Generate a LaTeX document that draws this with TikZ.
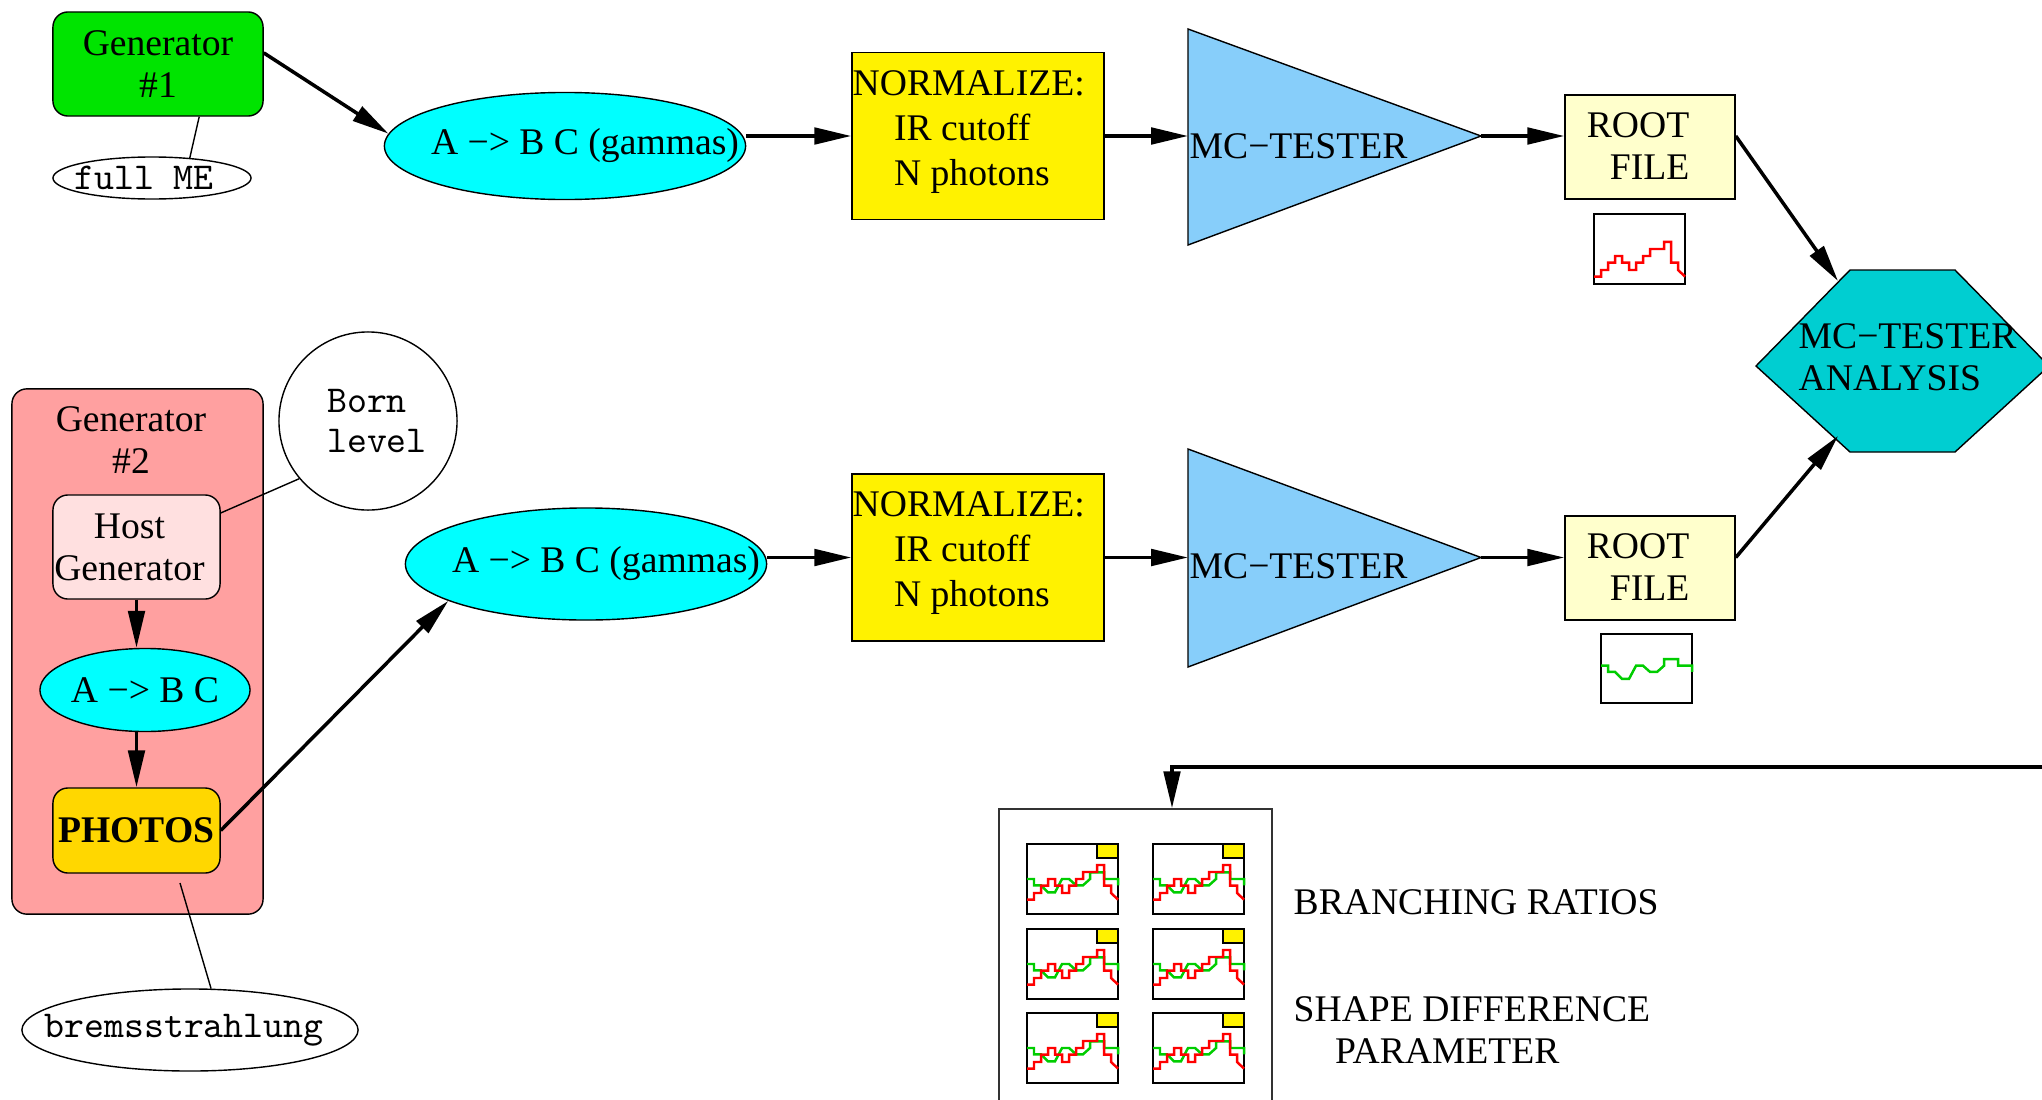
\documentclass[tikz,border=0pt]{standalone}
\usepackage{fontspec}
\setmainfont{Liberation Serif}
\usetikzlibrary{arrows.meta,shapes.geometric}

\definecolor{gengreen}{RGB}{0,228,0}
\definecolor{ovalcyan}{RGB}{0,255,255}
\definecolor{pinkdark}{RGB}{255,160,160}
\definecolor{pinklight}{RGB}{255,224,224}
\definecolor{goldbox}{RGB}{255,215,0}
\definecolor{skyblue}{RGB}{135,206,250}
\definecolor{turq}{RGB}{0,206,209}
\definecolor{rootyellow}{RGB}{255,255,204}
\definecolor{histgreen}{RGB}{0,205,0}

\newcommand{\redsteps}{(0,.105) -- (1,.105) -- (1,.2) -- (2,.2) -- (2,.305) -- (3,.305) -- (3,.4) -- (4,.4) -- (4,.305) -- (5,.305) -- (5,.2) -- (6,.2) -- (6,.305) -- (7,.305) -- (7,.4) -- (8,.4) -- (8,.5) -- (10,.5) -- (10,.6) -- (11,.6) -- (11,.305) -- (12,.305) -- (12,.2) -- (13,.105)}
\newcommand{\greensteps}{(0,.54) -- (1,.54) -- (1,.45) -- (2,.45) -- (3,.35) -- (4,.35) -- (5,.54) -- (6,.54) -- (7,.45) -- (8,.45) -- (9,.54) -- (9,.635) -- (11,.635) -- (11,.54) -- (13,.54) -- (13,.45)}

\begin{document}
\begin{tikzpicture}[x=0.01cm, y=-0.01cm,
    every node/.style={font=\fontsize{10.7}{12}\selectfont},
    plainbox/.style={draw, line width=0.4pt, inner sep=0pt},
    roundbox/.style={plainbox, rounded corners=0.15cm},
    ovalnode/.style={draw, ellipse, inner sep=0pt, line width=0.4pt},
    ttnode/.style={font=\fontsize{10.8}{11.1}\selectfont\ttfamily},
    flow/.style={line width=1pt, -{Triangle[length=10.5pt,width=4.7pt]}},
    noteline/.style={line width=0.4pt},
    histline/.style={line width=0.7pt}]

\useasboundingbox (0,0) rectangle (2042,1100);
\clip (0,0) rectangle (2042,1100);

% first generator
\node[roundbox, fill=gengreen, minimum width=2.10cm, minimum height=1.04cm, align=center] (gen1) at (158,64) {Generator\\\#1};
\node[ovalnode, ttnode, minimum width=1.98cm, minimum height=0.42cm] (fullme) at (152,178) {\makebox[0pt]{full ME\hspace{0.16cm}}};
\node[ovalnode, fill=ovalcyan, minimum width=3.61cm, minimum height=1.07cm] (ell1) at (565,146) {\makebox[0pt]{\hspace{0.4cm}A −> B C (gammas)}};

\node[plainbox, fill=yellow, minimum width=2.52cm, minimum height=1.67cm] (norm1) at (978,136) {};
\node[anchor=north west, inner sep=0pt, align=left, font=\fontsize{10.7}{12.8}\selectfont] (norm1t) at (852,70) {NORMALIZE:\\\hspace*{1.1em}IR cutoff\\\hspace*{1.1em}N photons};

\filldraw[fill=skyblue, line width=0.4pt] (1188,29) -- (1481,136) -- (1188,245) -- cycle;
\coordinate (mc1w) at (1188,136);
\coordinate (mc1e) at (1481,136);
\node[anchor=west, inner sep=0pt] (mc1) at (1189,146) {MC−TESTER};

\node[plainbox, fill=rootyellow, minimum width=1.70cm, minimum height=1.04cm] (root1) at (1650,147) {};
\node[anchor=east, inner sep=0pt, align=right] (root1t) at (1690,146) {ROOT\\FILE};
\begin{scope}[shift={(1594,284)}, x=0.07cm, y=0.70cm]
  \draw[line width=0.5pt] (0,0) rectangle (13,1);
  \draw[histline, red] \redsteps;
\end{scope}

% analysis
\filldraw[fill=turq, line width=0.4pt] (1850,270) -- (1955,270) -- (2049,366) -- (1955,452) -- (1850,452) -- (1756,366) -- cycle;
\coordinate (anaup) at (1838,281);
\coordinate (analow) at (1838,436);
\node[anchor=west, inner sep=0pt, align=left] (ana) at (1798,357) {MC−TESTER\\ANALYSIS};

% second generator
\node[roundbox, fill=pinkdark, minimum width=2.51cm, minimum height=5.25cm] (gen2) at (137.5,651.5) {};
\node[anchor=north, inner sep=0pt, align=center] (gen2t) at (131,406) {Generator\\\#2};
\node[roundbox, fill=pinklight, minimum width=1.67cm, minimum height=1.04cm, align=center] (host) at (136.5,547) {Host\hspace*{0.14cm}\\Generator\hspace*{0.14cm}};
\node[ovalnode, fill=ovalcyan, minimum width=2.10cm, minimum height=0.83cm] (abc) at (145,690) {\makebox[0pt]{A −> B C}};
\node[roundbox, fill=goldbox, minimum width=1.67cm, minimum height=0.85cm, font=\fontsize{10.7}{12}\selectfont\bfseries] (photos) at (136.5,830.5) {PHOTOS};
\node[draw, circle, line width=0.4pt, minimum size=1.78cm, inner sep=0pt, ttnode, align=left] (born) at (368,421) {\hspace*{0.18cm}Born\\\hspace*{0.18cm}level};
\node[ovalnode, ttnode, minimum width=3.36cm, minimum height=0.82cm] (brems) at (190,1030) {\makebox[0pt]{bremsstrahlung\hspace{0.12cm}}};
\coordinate (bremsfrom) at (180,883);

\node[ovalnode, fill=ovalcyan, minimum width=3.61cm, minimum height=1.12cm] (ell2) at (586,564) {\makebox[0pt]{\hspace{0.4cm}A −> B C (gammas)}};

\node[plainbox, fill=yellow, minimum width=2.52cm, minimum height=1.67cm] (norm2) at (978,557.5) {};
\node[anchor=north west, inner sep=0pt, align=left, font=\fontsize{10.7}{12.8}\selectfont] (norm2t) at (852,491) {NORMALIZE:\\\hspace*{1.1em}IR cutoff\\\hspace*{1.1em}N photons};

\filldraw[fill=skyblue, line width=0.4pt] (1188,449) -- (1481,557.5) -- (1188,667) -- cycle;
\coordinate (mc2w) at (1188,557.5);
\coordinate (mc2e) at (1481,557.5);
\node[anchor=west, inner sep=0pt] (mc2) at (1189,566) {MC−TESTER};

\node[plainbox, fill=rootyellow, minimum width=1.70cm, minimum height=1.04cm] (root2) at (1650,568) {};
\node[anchor=east, inner sep=0pt, align=right] (root2t) at (1690,567) {ROOT\\FILE};
\begin{scope}[shift={(1601,703)}, x=0.07cm, y=0.69cm]
  \draw[line width=0.5pt] (0,0) rectangle (13,1);
  \draw[histline, histgreen] \greensteps;
\end{scope}

% connectors
\draw[noteline] (gen1.308) -- (fullme.28);
\draw[noteline] (host.22) -- (born.220);
\draw[noteline] (bremsfrom) -- (brems.63);

\draw[flow] (gen1.6) -- (ell1.176);
\draw[flow] (ell1.east |- norm1.west) -- (norm1.west);
\draw[flow] (norm1.east) -- (mc1w);
\draw[flow] (mc1e) -- (mc1e -| root1.west);
\draw[flow] (root1.east |- mc1e) -- (anaup);

\draw[flow] (host.south) -- (host.south |- abc.north);
\draw[flow] (host.south |- abc.south) -- (photos.north);
\draw[flow] (photos.east) -- (ell2.195);
\draw[flow] (ell2.east |- norm2.west) -- (norm2.west);
\draw[flow] (norm2.east) -- (mc2w);
\draw[flow] (mc2e) -- (mc2e -| root2.west);
\draw[flow] (root2.east |- mc2e) -- (analow);

% results
\node[plainbox, draw=black!80, minimum width=2.73cm, minimum height=3.3cm] (results) at (1135.5,974) {};
\coordinate (resin) at (2042,767);
\coordinate (resdrop) at (1172,767);
\draw[flow] (resin) -- (resdrop) -- (resdrop |- results.north);

\foreach \cx in {1027,1153}
  \foreach \cy in {914,999,1083} {
    \begin{scope}[shift={(\cx,\cy)}, x=0.07cm, y=0.70cm]
      \draw[line width=0.5pt] (0,0) rectangle (13,1);
      \filldraw[fill=yellow, line width=0.4pt] (10,.8) rectangle (13,1);
      \draw[histline, histgreen, shift={(0,-.04)}] \greensteps;
      \draw[histline, red, shift={(0,.1)}] \redsteps;
    \end{scope}
  }

\node[anchor=west, inner sep=0pt] (branch) at (1293,902) {BRANCHING RATIOS};
\node[anchor=north west, inner sep=0pt, align=left] (shape) at (1293,995.5) {SHAPE DIFFERENCE\\\hspace*{1.1em}PARAMETER};

\end{tikzpicture}
\end{document}
